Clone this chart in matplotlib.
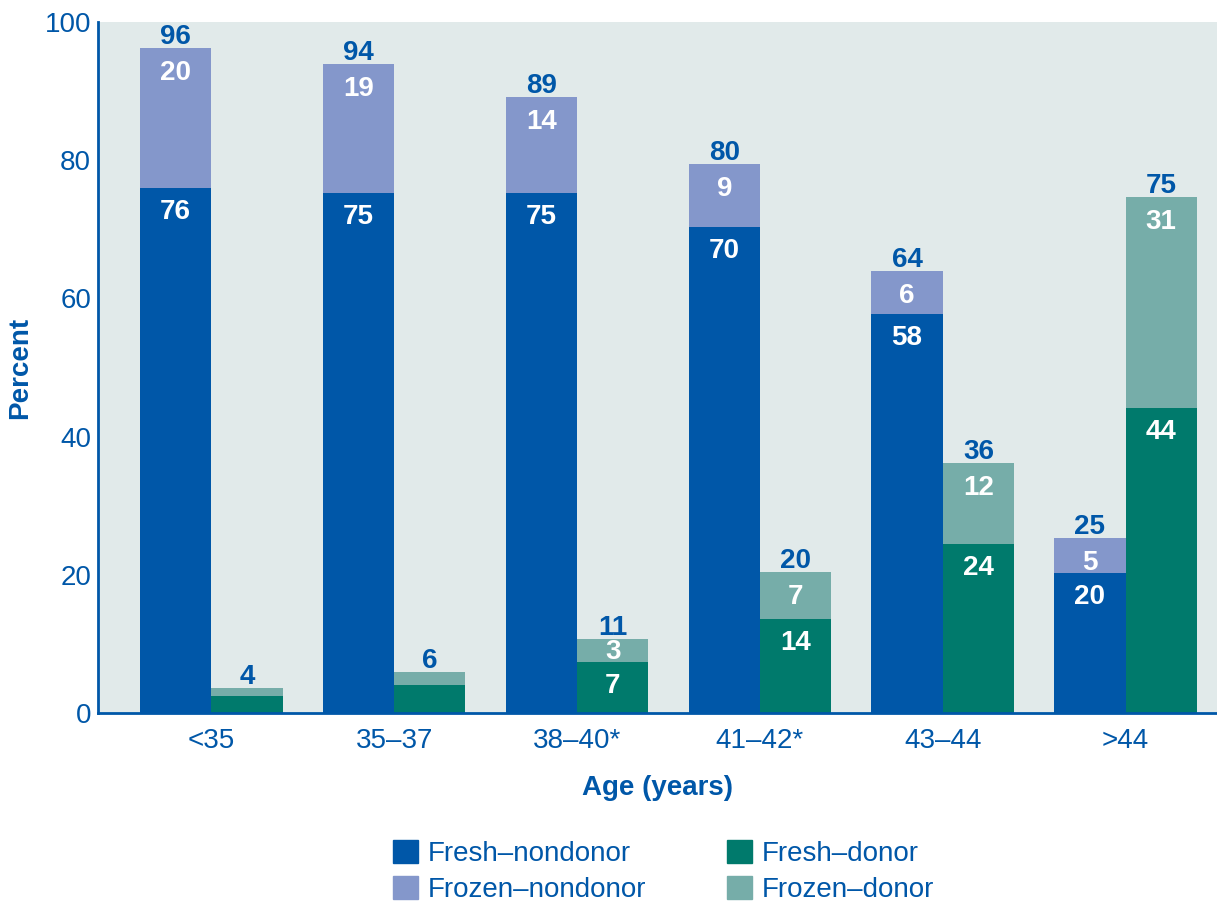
import numpy as np
import matplotlib
matplotlib.use("Agg")
import matplotlib.pyplot as plt
from matplotlib.patches import Patch

plt.rcParams["font.family"] = ["Liberation Sans", "DejaVu Sans"]

ages = ["<35", "35\u201337", "38\u201340*", "41\u201342*", "43\u201344", ">44"]

# bar heights
fresh_nondonor = [76, 75.3, 75.3, 70.3, 57.8, 20.3]
frozen_nondonor = [20.2, 18.6, 13.8, 9.2, 6.2, 5]
fresh_donor = [2.4, 4.0, 7.4, 13.6, 24.5, 44.1]
frozen_donor = [1.2, 1.9, 3.3, 6.8, 11.7, 30.6]

# printed labels
total_nondonor_lbl = ["96", "94", "89", "80", "64", "25"]
total_donor_lbl = ["4", "6", "11", "20", "36", "75"]
fresh_nondonor_lbl = ["76", "75", "75", "70", "58", "20"]
frozen_nondonor_lbl = ["20", "19", "14", "9", "6", "5"]
fresh_donor_lbl = [None, None, "7", "14", "24", "44"]
frozen_donor_lbl = [None, None, "3", "7", "12", "31"]

blue = "#0057A8"
c_fn = "#0057A8"
c_zn = "#8497CB"
c_fd = "#007A6C"
c_zd = "#76ADA9"
bg = "#E1EAEA"

fig = plt.figure(figsize=(12.17, 9.05), dpi=100)
ax = fig.add_axes([0.0805, 0.2122, 0.9195, 0.7635])
ax.set_facecolor(bg)

x = np.arange(len(ages))
w = 0.39

ax.bar(x - w/2, fresh_nondonor, w, color=c_fn, zorder=2)
ax.bar(x - w/2, frozen_nondonor, w, bottom=fresh_nondonor, color=c_zn, zorder=2)
ax.bar(x + w/2, fresh_donor, w, color=c_fd, zorder=2)
ax.bar(x + w/2, frozen_donor, w, bottom=fresh_donor, color=c_zd, zorder=2)

lab = dict(fontsize=20, fontweight="bold", ha="center", va="center")
for i in range(len(ages)):
    xl = x[i] - w/2
    xr = x[i] + w/2
    top_n = fresh_nondonor[i] + frozen_nondonor[i]
    top_d = fresh_donor[i] + frozen_donor[i]
    ax.text(xl, top_n + 1.6, total_nondonor_lbl[i], color=blue, **lab)
    ax.text(xr, top_d + 1.6, total_donor_lbl[i], color=blue, **lab)
    ax.text(xl, fresh_nondonor[i] - 3.5, fresh_nondonor_lbl[i], color="white", **lab)
    ax.text(xl, top_n - 3.6, frozen_nondonor_lbl[i], color="white", **lab)
    if fresh_donor_lbl[i]:
        ax.text(xr, fresh_donor[i] - 3.5, fresh_donor_lbl[i], color="white", **lab)
    if frozen_donor_lbl[i]:
        if frozen_donor[i] < 5:
            yy = fresh_donor[i] + frozen_donor[i] / 2 - 0.3
        else:
            yy = top_d - 3.6
        ax.text(xr, yy, frozen_donor_lbl[i], color="white", **lab)

ax.set_xlim(-0.62, 5.5)
ax.set_ylim(0, 100)
ax.set_yticks([0, 20, 40, 60, 80, 100])
ax.set_xticks(x)
ax.set_xticklabels(ages)
ax.tick_params(axis="both", colors=blue, labelcolor=blue, labelsize=20, length=0)
ax.tick_params(axis="x", pad=11)
ax.tick_params(axis="y", pad=5)
for s in ["top", "right"]:
    ax.spines[s].set_visible(False)
for s in ["left", "bottom"]:
    ax.spines[s].set_color(blue)
    ax.spines[s].set_linewidth(2)

ax.set_ylabel("Percent", color=blue, fontsize=20, fontweight="bold")
ax.yaxis.set_label_coords(-0.058, 0.5)
ax.set_xlabel("Age (years)", color=blue, fontsize=20, fontweight="bold", labelpad=15)

handles = [Patch(color=c_fn, label="Fresh\u2013nondonor"),
           Patch(color=c_zn, label="Frozen\u2013nondonor"),
           Patch(color=c_fd, label="Fresh\u2013donor"),
           Patch(color=c_zd, label="Frozen\u2013donor")]
leg = fig.legend(handles=handles, ncol=2, loc="center", bbox_to_anchor=(0.545, 0.037),
                 frameon=False, fontsize=20, handlelength=0.9, handleheight=0.9,
                 columnspacing=2.9, handletextpad=0.35, labelspacing=0.35)
for t in leg.get_texts():
    t.set_color(blue)

fig.savefig("out.png", dpi=100)
